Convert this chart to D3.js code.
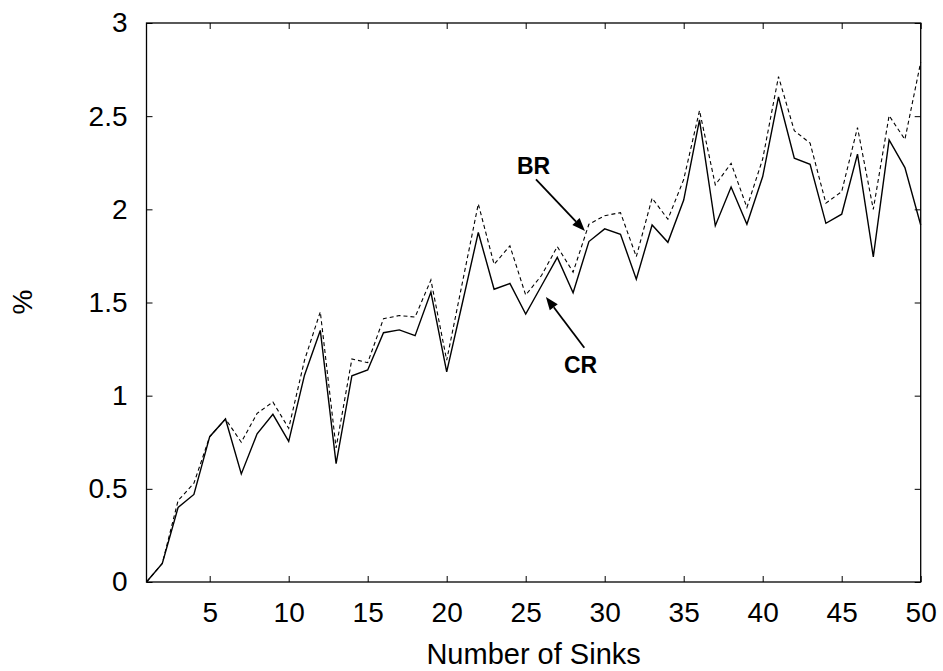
<!DOCTYPE html>
<html>
<head>
<meta charset="utf-8">
<script src="https://cdn.jsdelivr.net/npm/d3@7"></script>
<style>
  html, body { margin: 0; padding: 0; background: #fff; }
  svg { display: block; font-family: "Liberation Sans", Arial, sans-serif; }
</style>
</head>
<body>
<svg id="chart" width="943" height="671"></svg>
<script>
// ---- data ----
const sinks = d3.range(1, 51);
const crValues = [0, 0.10, 0.40, 0.47, 0.78, 0.875, 0.58, 0.795, 0.90, 0.755,
  1.11, 1.35, 0.635, 1.107, 1.138, 1.338, 1.353, 1.322, 1.556, 1.128,
  1.50, 1.876, 1.571, 1.602, 1.438, 1.59, 1.742, 1.552, 1.827, 1.895,
  1.866, 1.625, 1.916, 1.823, 2.05, 2.48, 1.912, 2.12, 1.92, 2.176,
  2.603, 2.274, 2.242, 1.925, 1.974, 2.296, 1.745, 2.373, 2.224, 1.916];
const brValues = [0, 0.10, 0.437, 0.53, 0.78, 0.875, 0.75, 0.905, 0.966, 0.825,
  1.19, 1.45, 0.72, 1.197, 1.177, 1.413, 1.43, 1.422, 1.621, 1.19,
  1.61, 2.029, 1.705, 1.804, 1.54, 1.645, 1.80, 1.663, 1.92, 1.966,
  1.982, 1.746, 2.06, 1.947, 2.16, 2.53, 2.131, 2.247, 2.01, 2.27,
  2.712, 2.422, 2.355, 2.033, 2.095, 2.439, 2.0, 2.503, 2.375, 2.79];
const xTicks = [5, 10, 15, 20, 25, 30, 35, 40, 45, 50];
const yTicks = [0, 0.5, 1, 1.5, 2, 2.5, 3];
const yTickLabels = ["0", "0.5", "1", "1.5", "2", "2.5", "3"];
const xTitle = "Number of Sinks";
const yTitle = "%";
// annotations in data units: label position, arrow start, arrow end
const annotations = [
  { text: "BR", tx: 24.45, ty: 2.187, x1: 25.65, y1: 2.161, x2: 28.75, y2: 1.884 },
  { text: "CR", tx: 27.42, ty: 1.123, x1: 28.71, y1: 1.257, x2: 26.28, y2: 1.530 }
];

// ---- layout ----
const svg = d3.select("#chart");
const mLeft = 146.5, mRight = 920.7, mTop = 23, mBottom = 582;
const x = d3.scaleLinear().domain([1, 50]).range([mLeft, mRight]);
const y = d3.scaleLinear().domain([0, 3]).range([mBottom, mTop]);
const fs = 28;

// frame
svg.append("rect")
  .attr("x", mLeft).attr("y", mTop)
  .attr("width", mRight - mLeft).attr("height", mBottom - mTop)
  .attr("fill", "none").attr("stroke", "#000").attr("stroke-width", 1.3);

function styleAxis(g, labels) {
  g.select(".domain").remove();
  g.selectAll(".tick line").attr("stroke", "#000").attr("stroke-width", 1);
  g.selectAll(".tick text").attr("fill", "#000").attr("font-size", fs)
    .attr("font-family", "Liberation Sans, Arial, sans-serif");
  if (!labels) g.selectAll(".tick text").remove();
}

svg.append("g").attr("transform", `translate(0,${mBottom})`)
  .call(d3.axisBottom(x).tickValues(xTicks).tickSize(-6).tickPadding(20).tickFormat(d3.format("d")))
  .call(g => styleAxis(g, true));
svg.append("g").attr("transform", `translate(0,${mTop})`)
  .call(d3.axisTop(x).tickValues(xTicks).tickSize(-6))
  .call(g => styleAxis(g, false));
svg.append("g").attr("transform", `translate(${mLeft},0)`)
  .call(d3.axisLeft(y).tickValues(yTicks).tickSize(-6).tickPadding(19)
    .tickFormat((d, i) => yTickLabels[i]))
  .call(g => styleAxis(g, true));
svg.append("g").attr("transform", `translate(${mRight},0)`)
  .call(d3.axisRight(y).tickValues(yTicks).tickSize(-6))
  .call(g => styleAxis(g, false));

// lines
const line = d3.line().x(d => x(d[0])).y(d => y(d[1]));
svg.append("path")
  .datum(sinks.map((s, i) => [s, brValues[i]]))
  .attr("d", line).attr("fill", "none").attr("stroke", "#000")
  .attr("stroke-width", 1.1).attr("stroke-dasharray", "4,3");
svg.append("path")
  .datum(sinks.map((s, i) => [s, crValues[i]]))
  .attr("d", line).attr("fill", "none").attr("stroke", "#000")
  .attr("stroke-width", 1.4);

// titles
svg.append("text").attr("x", (mLeft + mRight) / 2).attr("y", 664)
  .attr("text-anchor", "middle").attr("font-size", 29).text(xTitle);
svg.append("text").attr("transform", "translate(32,302) rotate(-90)")
  .attr("text-anchor", "middle").attr("font-size", fs).text(yTitle);

// annotations
annotations.forEach(a => {
  svg.append("text").attr("x", x(a.tx)).attr("y", y(a.ty))
    .attr("font-size", 23).attr("font-weight", "bold").text(a.text);
  const X1 = x(a.x1), Y1 = y(a.y1), X2 = x(a.x2), Y2 = y(a.y2);
  const ang = Math.atan2(Y2 - Y1, X2 - X1);
  const hl = 13, hw = 5;
  const bx = X2 - hl * Math.cos(ang), by = Y2 - hl * Math.sin(ang);
  svg.append("line").attr("x1", X1).attr("y1", Y1).attr("x2", bx).attr("y2", by)
    .attr("stroke", "#000").attr("stroke-width", 1.8);
  const px = -Math.sin(ang), py = Math.cos(ang);
  svg.append("path")
    .attr("d", `M${X2},${Y2}L${bx + hw * px},${by + hw * py}L${bx - hw * px},${by - hw * py}Z`)
    .attr("fill", "#000");
});
</script>
</body>
</html>
